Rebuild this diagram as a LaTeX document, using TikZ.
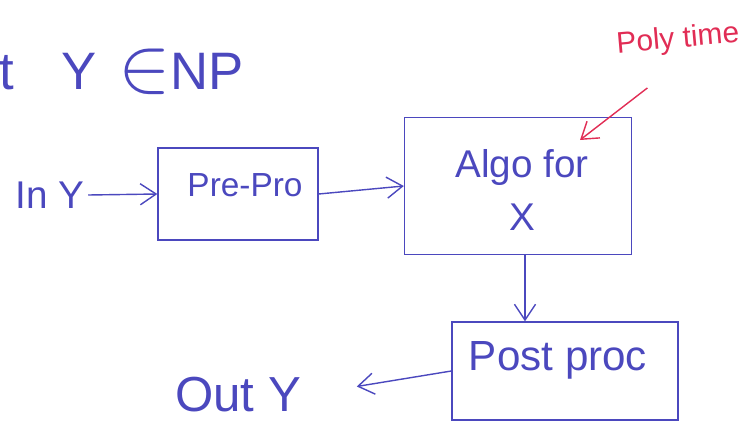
\documentclass[tikz,border=0pt]{standalone}
\usepackage{fontspec}
\setmainfont{Liberation Sans}
\usepackage{graphicx}
\usepackage{tikz}
\usetikzlibrary{arrows.meta}

\definecolor{inkblue}{RGB}{75,72,190}
\definecolor{inkred}{RGB}{225,45,85}

\tikzset{
  inkbox/.style={draw=inkblue, thick, inner sep=0pt},
  inkarrow/.style={draw=inkblue, thick, -{Straight Barb[length=9pt,width=12pt]}},
  inktext/.style={text=inkblue, inner sep=2pt}
}

\begin{document}
\begin{tikzpicture}[x=0.02cm, y=-0.02cm]

    \useasboundingbox (0,0) rectangle (751,433);

            % Statement at top left
            \node[inktext, anchor=west, font=\fontsize{30}{34}\selectfont] (stmt) at (-4,72) {t\hspace{0.9em}Y\hspace{0.4em}\raisebox{-1pt}{\scalebox{1.8}{$\in$}}NP};

            % Input
            \node[inktext, font=\fontsize{22}{26}\selectfont] (in) at (50,195) {In Y};

            % Pre-processing block
            \node[inkbox, minimum width=3.2cm, minimum height=1.84cm] (pre) at (238,194) {};
            \node[inktext, font=\fontsize{19}{22}\selectfont] (pretxt) at (245,185) {Pre-Pro};

            % Algorithm block
            \node[inkbox, minimum width=4.54cm, minimum height=2.74cm] (algo) at (518,186) {};
            \node[inktext, font=\fontsize{22}{26}\selectfont, align=center] (algotxt) at (522,190) {Algo for\\[4pt] X};

            % Post-processing block
            \node[inkbox, minimum width=4.52cm, minimum height=1.96cm] (post) at (565,371) {};
            \node[inktext, font=\fontsize{24}{28}\selectfont] (posttxt) at (558,360) {Post proc};

            % Output
            \node[inktext, font=\fontsize{28}{32}\selectfont] (out) at (238,395) {Out Y};

            % Connectors
            \draw[inkarrow] (in.east) -- (pre.west);
            \draw[inkarrow] (pre.east) -- (algo.west);
            \draw[inkarrow] (algo.south -| 525,0) -- (post.north -| 525,0);
            \draw[inkarrow, shorten >=30pt] (post.west) -- (out.east);

            % Poly time remark
            \node[text=inkred, font=\fontsize{17}{20}\selectfont, rotate=5] (poly) at (678,40) {Poly time};
            \coordinate (polytip) at (580,140);
            \draw[draw=inkred, thick, -{Straight Barb[length=9pt,width=12pt]}] (poly.south west) ++(35,22) -- (polytip);
        \end{tikzpicture}
\end{document}
